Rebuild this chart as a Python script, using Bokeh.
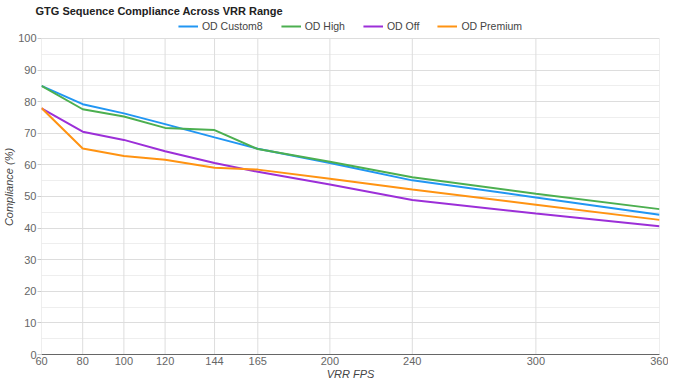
from bokeh.plotting import figure
from bokeh.models import Legend, LegendItem, FixedTicker, Range1d
from bokeh.embed import file_html
from bokeh.resources import INLINE

fps = [60, 80, 100, 120, 144, 165, 200, 240, 300, 360]
od_custom8 = [85, 79.2, 76.3, 72.9, 68.7, 65.1, 60.6, 55.1, 49.7, 44.2]
od_high = [85, 77.6, 75.3, 71.7, 71.0, 65.0, 61.0, 56.1, 50.9, 46.0]
od_off = [77.9, 70.5, 67.9, 64.3, 60.6, 57.8, 53.8, 48.9, 44.6, 40.6]
od_premium = [78.0, 65.2, 62.8, 61.6, 59.1, 58.5, 55.6, 52.2, 47.4, 42.6]
series_names = ["OD Custom8", "OD High", "OD Off", "OD Premium"]
colors = ["#2196F3", "#4CAF50", "#9C2FD8", "#FF9312"]
y_ticks = list(range(0, 101, 10))
y_minor = list(range(0, 101, 5))

FONT = "Liberation Sans"
FW, FH = 618, 335
Y_HEADROOM = 106.0   # frame extends above 100 to host the legend

p = figure(frame_width=FW, frame_height=FH, output_backend="svg", toolbar_location=None,
           x_range=Range1d(60, 360), y_range=Range1d(0, Y_HEADROOM),
           title="GTG Sequence Compliance Across VRR Range",
           min_border_left=20, min_border_right=9, min_border_top=0, min_border_bottom=10)
p.outline_line_color = None
p.background_fill_color = "white"
p.border_fill_color = "white"

p.title.text_font = FONT
p.title.text_font_size = "11px"
p.title.text_font_style = "bold"
p.title.text_color = "#222222"
p.title.standoff = 5
p.title.offset = -6

# vertical grid lines only within the 0..100 area
p.segment(x0=fps, y0=[y_ticks[0]] * len(fps), x1=fps, y1=[y_ticks[-1]] * len(fps),
          line_color="#dddddd", line_width=1)

items = []
for name, ys, c in zip(series_names, [od_custom8, od_high, od_off, od_premium], colors):
    r = p.line(fps, ys, line_color=c, line_width=2)
    items.append(LegendItem(label=name, renderers=[r]))

legend = Legend(items=items, orientation="horizontal", location="top_center")
legend.label_text_font = FONT
legend.label_text_font_size = "10.5px"
legend.label_text_color = "#444444"
legend.glyph_width = 20
legend.glyph_height = 12
legend.label_height = 12
legend.label_standoff = 4
legend.spacing = 18
legend.padding = 1
legend.margin = 1
legend.border_line_color = None
legend.background_fill_alpha = 0
p.add_layout(legend, "center")

# axes
p.xaxis.ticker = FixedTicker(ticks=fps)
p.yaxis.ticker = FixedTicker(ticks=y_ticks, minor_ticks=y_minor)
for ax in (p.xaxis[0], p.yaxis[0]):
    ax.major_label_text_font = FONT
    ax.major_label_text_font_size = "11px"
    ax.major_label_text_color = "#666666"
    ax.axis_label_text_font = FONT
    ax.axis_label_text_font_size = "11px"
    ax.axis_label_text_font_style = "italic"
    ax.axis_label_text_color = "#444444"
    ax.minor_tick_line_color = None
p.xaxis.axis_label = "VRR FPS"
p.yaxis.axis_label = "Compliance (%)"
p.xaxis.axis_line_color = "#666666"
p.xaxis.major_tick_line_color = None
p.xaxis.major_tick_out = 0
p.xaxis.major_tick_in = 0
p.xaxis.major_label_standoff = 2
p.xaxis.axis_label_standoff = 0
p.yaxis.axis_line_color = None
p.yaxis.major_tick_line_color = "#cccccc"
p.yaxis.major_tick_out = 4
p.yaxis.major_tick_in = 0
p.yaxis.major_label_standoff = 1
p.yaxis.axis_label_standoff = 0

p.xgrid.grid_line_color = None
p.ygrid.grid_line_color = "#dddddd"
p.ygrid.minor_grid_line_color = "#eeeeee"

open("out.html", "w").write(file_html(p, INLINE))
